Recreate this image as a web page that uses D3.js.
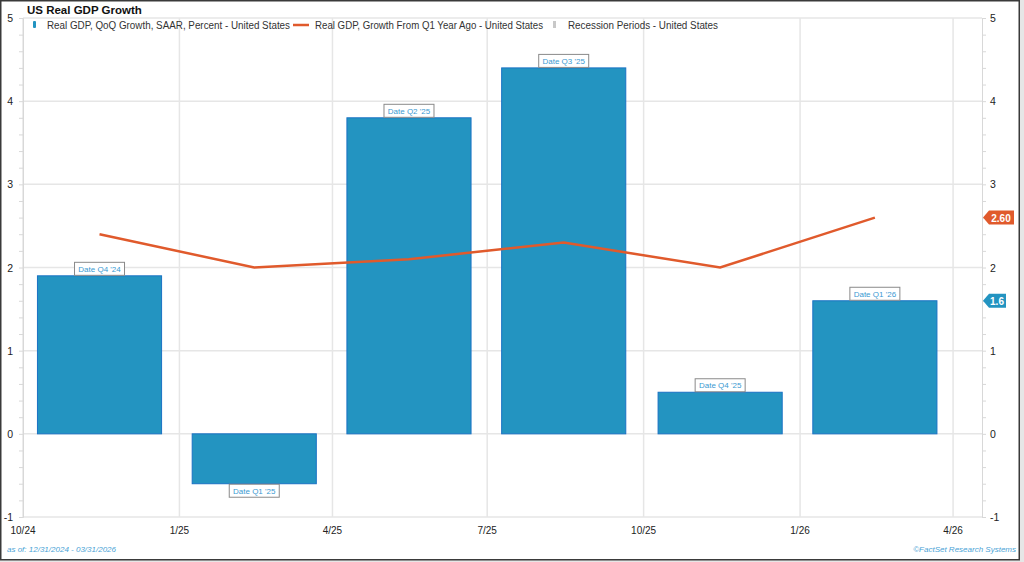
<!DOCTYPE html>
<html>
<head>
<meta charset="utf-8">
<script src="https://cdnjs.cloudflare.com/ajax/libs/d3/7.8.5/d3.min.js"></script>
<style>
  body { margin: 0; background: #e6e6e6; }
  svg { display: block; font-family: "Liberation Sans", Arial, sans-serif; }
</style>
</head>
<body>
<div id="graph"></div>
<script>
// quarters (bar centred on the middle of each quarter)
var quarters = ["Q4 '24", "Q1 '25", "Q2 '25", "Q3 '25", "Q4 '25", "Q1 '26"];
var quarterMid = ["2024-11-15", "2025-02-14", "2025-05-16", "2025-08-15", "2025-11-15", "2026-02-14"];
// Real GDP, QoQ growth, SAAR, %
var qoqGrowth = [1.9, -0.6, 3.8, 4.4, 0.5, 1.6];
// Real GDP, growth from year ago, %
var yoyGrowth = [2.4, 2.0, 2.1, 2.3, 2.0, 2.6];
// axis ticks
var xTickDates = ["2024-10-01", "2025-01-01", "2025-04-01", "2025-07-01", "2025-10-01", "2026-01-01", "2026-04-01"];
var xTickLabels = ["10/24", "1/25", "4/25", "7/25", "10/25", "1/26", "4/26"];
var yTicks = [-1, 0, 1, 2, 3, 4, 5];

window.onload = start;

function start() {
    var width = 1024;
    var height = 562;

    var svg = d3.select("#graph")
        .append("svg")
        .attr("width", width)
        .attr("height", height);

    // white panel with dark frame
    svg.append("rect")
        .attr("x", 0.75).attr("y", 0.75)
        .attr("width", 1018.5).attr("height", 559)
        .attr("fill", "#fff")
        .attr("stroke", "#3a3a3a")
        .attr("stroke-width", 1.5);

    var left = 23, right = 982, top = 18, bottom = 517;
    var parse = d3.timeParse("%Y-%m-%d");

    var x = d3.scaleTime()
        .domain([parse("2024-10-01"), parse("2026-04-18")])
        .range([left, right]);
    var y = d3.scaleLinear()
        .domain([-1, 5])
        .range([bottom, top]);

    var barW = x(parse("2025-02-12")) - x(parse("2024-12-01"));

    var g = svg.append("g");

    // grid
    g.selectAll("line.hgrid")
        .data(yTicks)
        .enter()
        .append("line")
        .attr("x1", left).attr("x2", right)
        .attr("y1", function(d) { return y(d); })
        .attr("y2", function(d) { return y(d); })
        .attr("stroke", "#e6e6e6")
        .attr("stroke-width", 1.5);

    g.selectAll("line.vgrid")
        .data(xTickDates)
        .enter()
        .append("line")
        .attr("x1", function(d) { return x(parse(d)); })
        .attr("x2", function(d) { return x(parse(d)); })
        .attr("y1", top).attr("y2", bottom)
        .attr("stroke", "#e6e6e6")
        .attr("stroke-width", 1.5);

    // left axis
    var leftAxis = d3.axisLeft(y)
        .tickValues(d3.range(-1, 5.01, 0.2))
        .tickSize(4)
        .tickFormat("");
    var la = svg.append("g")
        .attr("transform", "translate(" + left + ",0)")
        .call(leftAxis);
    la.select(".domain").attr("stroke", "#d8d8d8");
    la.selectAll(".tick line").attr("stroke", "#d8d8d8");

    svg.selectAll("text.ylab")
        .data(yTicks)
        .enter()
        .append("text")
        .attr("x", 13)
        .attr("y", function(d) { return y(d) + 4; })
        .attr("text-anchor", "end")
        .attr("font-size", 10.5)
        .attr("fill", "#222")
        .text(function(d) { return d; });

    // right axis
    var rightAxis = d3.axisRight(y)
        .tickValues(d3.range(-1, 5.01, 0.2))
        .tickSize(4)
        .tickFormat("");
    var ra = svg.append("g")
        .attr("transform", "translate(" + right + ",0)")
        .call(rightAxis);
    ra.select(".domain").attr("stroke", "#d8d8d8");
    ra.selectAll(".tick line").attr("stroke", "#d8d8d8");

    svg.selectAll("text.yrlab")
        .data(yTicks)
        .enter()
        .append("text")
        .attr("x", 990)
        .attr("y", function(d) { return y(d) + 4; })
        .attr("font-size", 10.5)
        .attr("fill", "#222")
        .text(function(d) { return d; });

    // x labels
    svg.selectAll("text.xlab")
        .data(xTickDates)
        .enter()
        .append("text")
        .attr("x", function(d) { return x(parse(d)); })
        .attr("y", 534)
        .attr("text-anchor", "middle")
        .attr("font-size", 10)
        .attr("fill", "#222")
        .text(function(d, i) { return xTickLabels[i]; });

    // bars
    g.selectAll("rect.bar")
        .data(qoqGrowth)
        .enter()
        .append("rect")
        .attr("x", function(d, i) { return x(parse(quarterMid[i])) - barW / 2; })
        .attr("y", function(d) { return y(Math.max(0, d)); })
        .attr("width", barW)
        .attr("height", function(d) { return Math.abs(y(d) - y(0)); })
        .attr("fill", "#2394c1")
        .attr("stroke", "#1a72c4")
        .attr("stroke-width", 1);

    // bar labels
    var lab = g.selectAll("g.blab")
        .data(qoqGrowth)
        .enter()
        .append("g")
        .attr("transform", function(d, i) {
            var cy = d >= 0 ? y(d) - 7 : y(d) + 7;
            return "translate(" + x(parse(quarterMid[i])) + "," + cy + ")";
        });
    lab.append("rect")
        .attr("x", -25).attr("y", -6.5)
        .attr("width", 50).attr("height", 13)
        .attr("fill", "#fff")
        .attr("stroke", "#8a8a8a")
        .attr("stroke-width", 1);
    lab.append("text")
        .attr("y", 3)
        .attr("text-anchor", "middle")
        .attr("font-size", 8)
        .attr("fill", "#3b9ad2")
        .text(function(d, i) { return "Date " + quarters[i]; });

    // year-ago line
    var line = d3.line()
        .x(function(d, i) { return x(parse(quarterMid[i])); })
        .y(function(d) { return y(d); });
    g.append("path")
        .datum(yoyGrowth)
        .attr("d", line)
        .attr("fill", "none")
        .attr("stroke", "#e05a2c")
        .attr("stroke-width", 2.5);

    // last value tags on the right
    var tags = [
        { v: yoyGrowth[yoyGrowth.length - 1], t: yoyGrowth[yoyGrowth.length - 1].toFixed(2), c: "#e05a2c", w: 31 },
        { v: qoqGrowth[qoqGrowth.length - 1], t: String(qoqGrowth[qoqGrowth.length - 1]), c: "#2394c1", w: 23 }
    ];
    var tg = svg.selectAll("g.tag")
        .data(tags)
        .enter()
        .append("g")
        .attr("transform", function(d) { return "translate(" + (right + 1) + "," + y(d.v) + ")"; });
    tg.append("path")
        .attr("d", function(d) { return "M0,0 L6,-7 L" + d.w + ",-7 L" + d.w + ",7 L6,7 Z"; })
        .attr("fill", function(d) { return d.c; });
    tg.append("text")
        .attr("x", function(d) { return (d.w + 5) / 2; })
        .attr("y", 4)
        .attr("text-anchor", "middle")
        .attr("font-size", 10)
        .attr("font-weight", "bold")
        .attr("fill", "#fff")
        .text(function(d) { return d.t; });

    // title
    svg.append("text")
        .attr("x", 27).attr("y", 14)
        .attr("font-size", 11.5)
        .attr("font-weight", "bold")
        .attr("fill", "#111")
        .text("US Real GDP Growth");

    // legend
    var leg = svg.append("g").attr("font-size", 10).attr("fill", "#333");
    leg.append("rect").attr("x", 33).attr("y", 21).attr("width", 3).attr("height", 7).attr("rx", 1).attr("fill", "#2394c1");
    leg.append("text").attr("x", 47).attr("y", 29)
        .attr("textLength", 243).attr("lengthAdjust", "spacingAndGlyphs")
        .text("Real GDP, QoQ Growth, SAAR, Percent - United States");
    leg.append("line").attr("x1", 293).attr("x2", 309).attr("y1", 25).attr("y2", 25).attr("stroke", "#e05a2c").attr("stroke-width", 2.5);
    leg.append("text").attr("x", 315).attr("y", 29)
        .attr("textLength", 228).attr("lengthAdjust", "spacingAndGlyphs")
        .text("Real GDP, Growth From Q1 Year Ago - United States");
    leg.append("rect").attr("x", 553).attr("y", 21).attr("width", 3).attr("height", 7).attr("fill", "#c8c8c8");
    leg.append("text").attr("x", 568).attr("y", 29)
        .attr("textLength", 150).attr("lengthAdjust", "spacingAndGlyphs")
        .text("Recession Periods - United States");

    // footer
    svg.append("text")
        .attr("x", 7).attr("y", 552)
        .attr("font-size", 8)
        .attr("font-style", "italic")
        .attr("fill", "#4aa3d6")
        .text("as of: 12/31/2024 - 03/31/2026");
    svg.append("text")
        .attr("x", 1016).attr("y", 552)
        .attr("text-anchor", "end")
        .attr("font-size", 8)
        .attr("font-style", "italic")
        .attr("fill", "#4aa3d6")
        .text("\u00A9FactSet Research Systems");
}
</script>
</body>
</html>
